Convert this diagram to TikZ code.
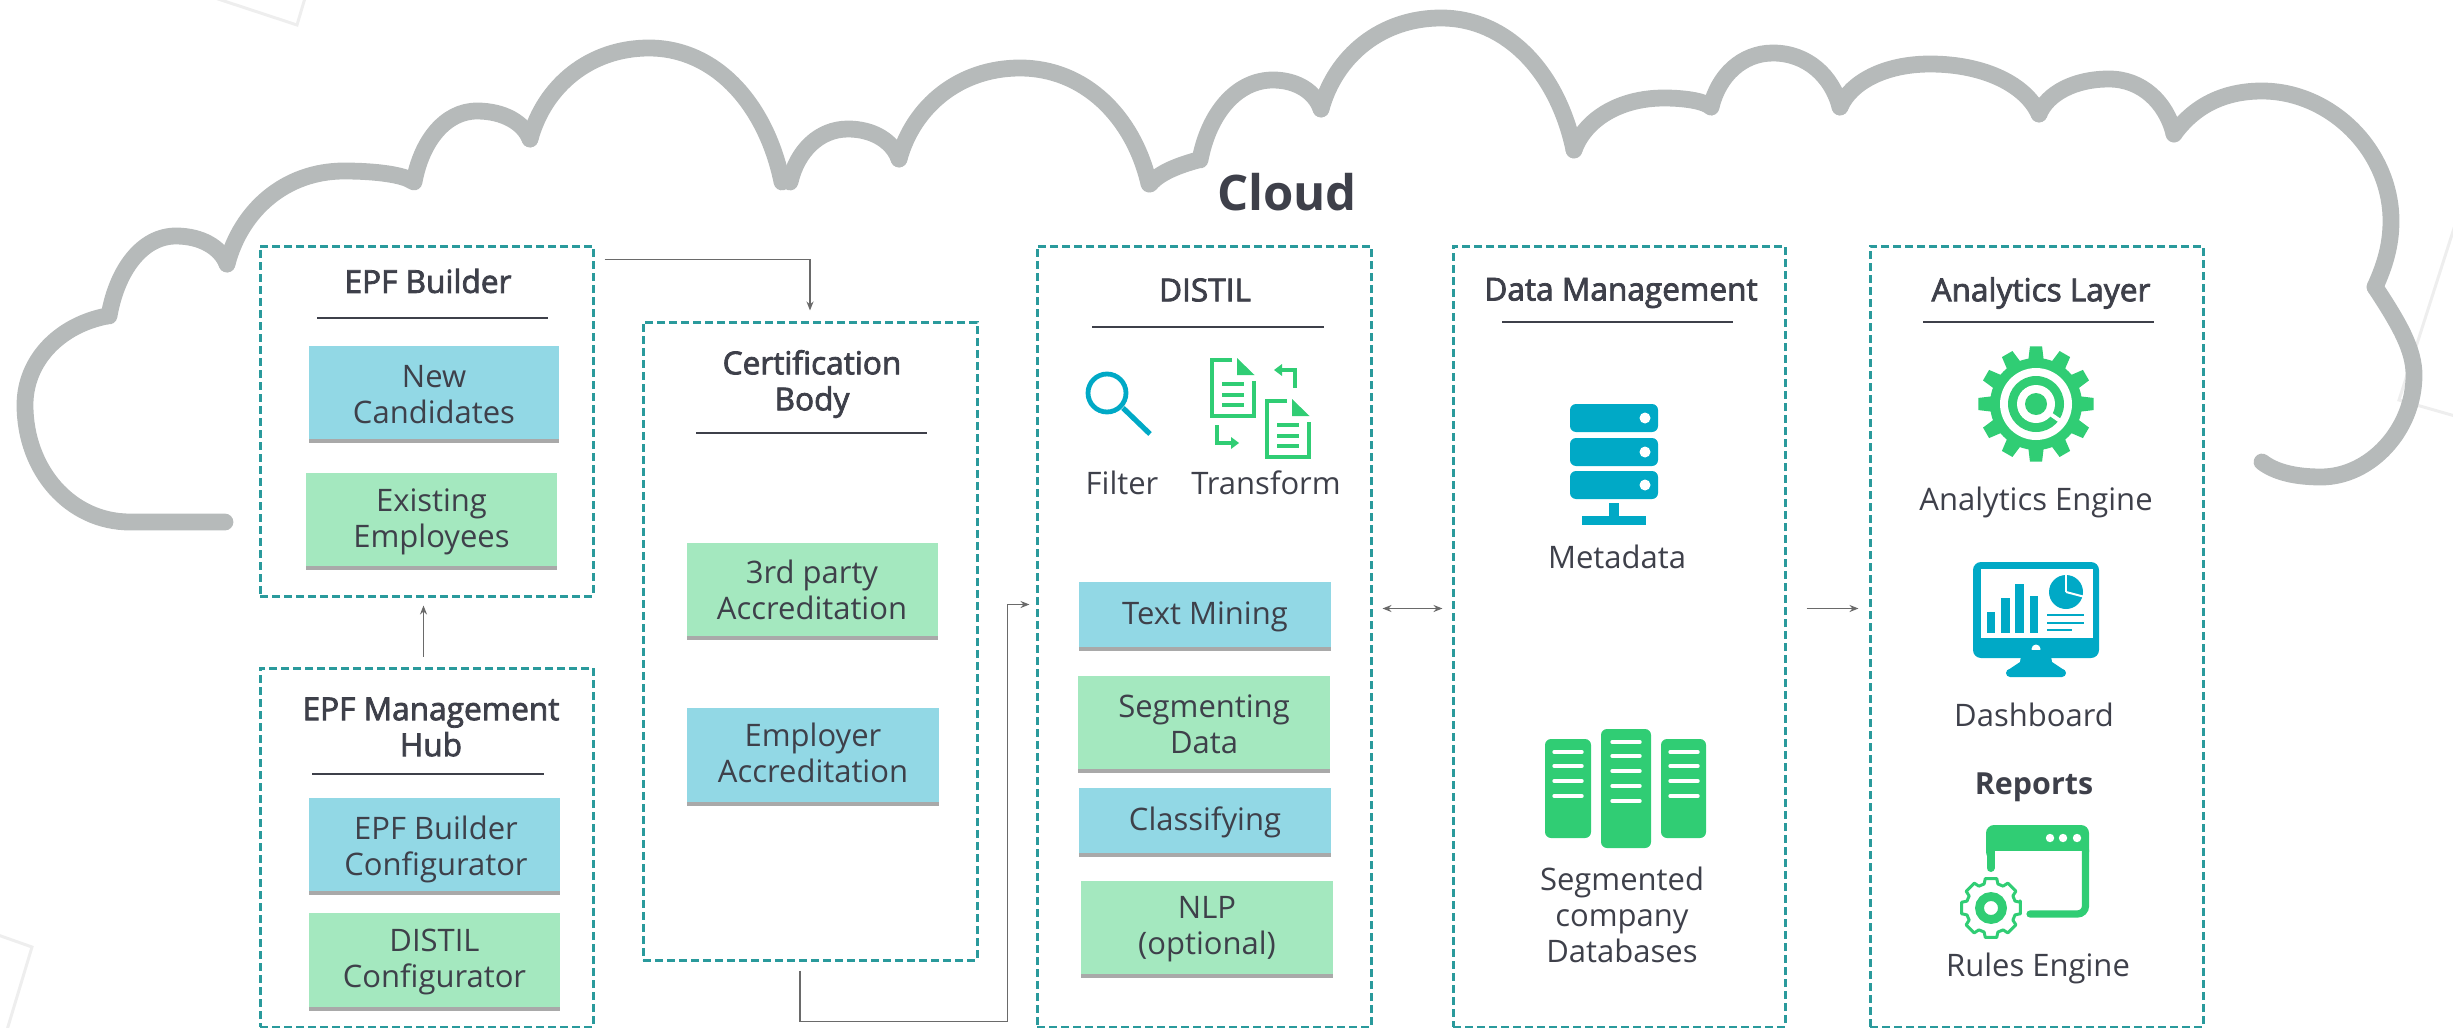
\documentclass[tikz,border=0pt]{standalone}
\usepackage{fontspec}
\setmainfont{Open Sans}
\newfontfamily\semi[FakeBold=2.5]{Open Sans}
\usetikzlibrary{arrows.meta}
\definecolor{ink}{HTML}{3E404A}
\definecolor{teal1}{HTML}{2A9A9C}
\definecolor{bluebox}{HTML}{92D8E5}
\definecolor{greenbox}{HTML}{A4E8BF}
\definecolor{shade1}{HTML}{A9A9A9}
\definecolor{iconblue}{HTML}{00A9C6}
\definecolor{icongreen}{HTML}{30CD74}
\definecolor{cloudgray}{HTML}{B6BABA}
\definecolor{faint}{HTML}{EEEEEE}
\definecolor{conn}{HTML}{6A6A6A}
\tikzset{
  cloudline/.style={draw=cloudgray,line width=8.4pt,line cap=round,line join=round},
  dashbox/.style={draw=teal1,line width=1.5pt,dash pattern=on 4pt off 2pt,inner sep=0pt,fill=none},
  titletext/.style={text=ink,font=\fontsize{15.8}{18}\semi,align=center,inner sep=0pt},
  bodytext/.style={text=ink,font=\fontsize{15.5}{18}\selectfont,align=center,inner sep=0pt},
  rulebar/.style={draw=ink,line width=1.1pt},
  conarrow/.style={draw=conn,line width=0.8pt,-{Stealth[length=4.5pt,width=3.5pt]}},
  conboth/.style={draw=conn,line width=0.8pt,{Stealth[length=4.5pt,width=3.5pt]}-{Stealth[length=4.5pt,width=3.5pt]}},
  cardbase/.style={inner sep=0pt,text=ink,font=\fontsize{15.5}{18}\selectfont,align=center,
    path picture={\fill[shade1] ([yshift=2pt]path picture bounding box.south west) rectangle (path picture bounding box.south east);}},
  bluecard/.style={cardbase,fill=bluebox},
  greencard/.style={cardbase,fill=greenbox},
}
\newcommand{\pbox}[7]{\node[#2,minimum width={(#5-#3)*0.5pt},minimum height={(#6-#4)*0.5pt}] (#1) at ({(#3+#5)/2},{(#4+#6)/2}) {#7};}
% one lobe of the cloud: start cusp, top, end cusp
\newcommand{\lobe}[6]{\draw[cloudline] (#1,#2)
  .. controls ({#1+0.12*(#3-#1)},{#2-0.58*(#2-#4)}) and ({#3-0.5*(#3-#1)},#4) .. (#3,#4)
  .. controls ({#3+0.5*(#5-#3)},#4) and ({#5-0.12*(#5-#3)},{#6-0.58*(#6-#4)}) .. (#5,#6);}
\begin{document}
\begin{tikzpicture}[x=0.5pt,y=-0.5pt]
\useasboundingbox (0,0) rectangle (2453,1028);
\clip (0,0) rectangle (2453,1028);
% faint background shapes
\draw[faint,line width=1.5pt] (215,-2) -- (297,25) -- (305,-2);
\draw[faint,line width=1.5pt] (-2,935) -- (32,947) -- (7,1030);
\draw[faint,line width=1.5pt] (2455,225) -- (2399,400) -- (2455,416);
% cloud
\draw[cloudline] (225,522) -- (130,522) .. controls (70,522) and (25,470) .. (25,405) .. controls (25,360) and (60,325) .. (107,316);
\lobe{109}{316}{176}{236}{227}{264}
\lobe{227}{264}{344}{171}{412}{181}
\lobe{414}{182}{477}{111}{530}{139}
\lobe{530}{139}{649}{48}{782}{182}
\lobe{790}{182}{848}{129}{899}{159}
\lobe{899}{159}{1020}{68}{1149}{184}
\draw[cloudline] (1150,184) .. controls (1160,172) and (1180,165) .. (1198,160);
\lobe{1200}{160}{1273}{80}{1321}{109}
\lobe{1321}{109}{1441}{18}{1574}{150}
\lobe{1574}{150}{1664}{98}{1711}{107}
\lobe{1711}{107}{1773}{53}{1840}{107}
\lobe{1840}{107}{1930}{64}{2039}{114}
\lobe{2039}{114}{2109}{79}{2174}{134}
\draw[cloudline] (2174,134) .. controls (2195,105) and (2225,91) .. (2262,91) .. controls (2330,91) and (2391,150) .. (2391,221) .. controls (2391,245) and (2385,265) .. (2375,287);
\draw[cloudline] (2375,287) .. controls (2400,325) and (2414,350) .. (2414,375) .. controls (2414,430) and (2370,477) .. (2321,477) .. controls (2295,477) and (2275,472) .. (2262,462);
\node[text=ink,font=\fontsize{24.5}{28}\selectfont\bfseries,inner sep=0pt] (cloudtitle) at (1287,192) {Cloud};
% dashed containers
\pbox{builder}{dashbox}{260}{246}{593}{596}{}
\pbox{cert}{dashbox}{643}{322}{977}{960}{}
\pbox{hub}{dashbox}{260}{668}{593}{1027}{}
\pbox{distil}{dashbox}{1037}{246}{1371}{1027}{}
\pbox{data}{dashbox}{1453}{246}{1785}{1027}{}
\pbox{analytics}{dashbox}{1870}{246}{2203}{1027}{}
% titles and rules
\node[titletext] (tbuilder) at (428,281) {EPF Builder};
\draw[rulebar] (317,318) -- (548,318);
\node[titletext] (tcert) at (812,384) {Certification\\Body};
\draw[rulebar] (696,433) -- (927,433);
\node[titletext] (thub) at (431,727) {EPF Management\\Hub};
\draw[rulebar] (312,774) -- (544,774);
\node[titletext] (tdistil) at (1205,290) {DISTIL};
\draw[rulebar] (1092,327) -- (1324,327);
\node[titletext] (tdata) at (1621,293) {Data Management};
\draw[rulebar] (1502,322) -- (1733,322);
\node[titletext] (tanalytics) at (2041,293) {Analytics Layer};
\draw[rulebar] (1923,322) -- (2154,322);
% cards
\pbox{newc}{bluecard}{309}{346}{559}{443}{New\\Candidates}
\pbox{exist}{greencard}{306}{473}{557}{570}{Existing\\Employees}
\pbox{third}{greencard}{687}{543}{938}{640}{}
\node[bodytext] (thirdtext) at (812,590) {3rd party\\Accreditation};
\pbox{employer}{bluecard}{687}{708}{939}{806}{}
\node[bodytext] (employertext) at (813,753) {Employer\\Accreditation};
\pbox{ebc}{bluecard}{309}{798}{560}{895}{}
\node[bodytext] (ebctext) at (436,849) {EPF Builder\\Configurator};
\pbox{dc}{greencard}{309}{913}{560}{1011}{DISTIL\\Configurator}
\pbox{mining}{bluecard}{1079}{582}{1331}{651}{Text Mining}
\pbox{seg}{greencard}{1078}{676}{1330}{773}{Segmenting\\Data}
\pbox{classy}{bluecard}{1079}{788}{1331}{857}{Classifying}
\pbox{nlp}{greencard}{1081}{881}{1333}{978}{NLP\\(optional)}
% connectors
\draw[conarrow] ([shift={(5pt,-7.5pt)}]builder.north east) -| ([yshift=5pt]cert.north);
\draw[conarrow] ([shift={(-1.5pt,5pt)}]hub.north) -- ([shift={(-1.5pt,-4pt)}]builder.south);
\draw[conarrow] ([shift={(-5pt,-4.5pt)}]cert.south) |- ([shift={(-14pt,-192.5pt)}]distil.west) -- ([shift={(-14pt,16pt)}]distil.west) -- ([shift={(-3pt,16pt)}]distil.west);
\draw[conboth] ([shift={(5pt,14pt)}]distil.east) -- ([shift={(-4.5pt,14pt)}]data.west);
\draw[conarrow] ([shift={(10pt,14pt)}]data.east) -- ([shift={(-5pt,14pt)}]analytics.west);
% filter icon
\draw[iconblue,line width=2.4pt] (1107,393) circle (19);
\draw[iconblue,line width=2.6pt] (1123,408) -- (1150,434);
\node[bodytext] (filter) at (1122,483) {Filter};
% transform icon
\foreach \dx/\dy in {0/0,55/41}{
\begin{scope}[shift={(\dx,\dy)}]
\draw[icongreen,line width=1.8pt] (1232,360) -- (1212,360) -- (1212,416) -- (1254,416) -- (1254,381);
\fill[icongreen] (1237,358) -- (1237,375) -- (1254.5,375) -- cycle;
\draw[icongreen,line width=1.8pt] (1222,384) -- (1244,384) (1222,395) -- (1244,395) (1222,405) -- (1244,405);
\end{scope}}
\draw[icongreen,line width=1.6pt] (1295,388) -- (1295,370) -- (1280,370);
\fill[icongreen] (1274,370) -- (1282,364) -- (1282,376) -- cycle;
\draw[icongreen,line width=1.6pt] (1217,425) -- (1217,443) -- (1232,443);
\fill[icongreen] (1239,443) -- (1231,437) -- (1231,449) -- cycle;
\node[bodytext] (transform) at (1266,483) {Transform};
% metadata icon
\foreach \y in {404,438,471}{
\fill[iconblue,rounded corners=3pt] (1570,\y) rectangle (1658,\y+28);
\fill[white] (1645,\y+14) circle (5.5);}
\fill[iconblue] (1609,503) rectangle (1619,518);
\fill[iconblue] (1582,516) rectangle (1646,525);
\node[bodytext] (metadata) at (1617,557) {Metadata};
% databases icon
\fill[icongreen,rounded corners=3pt] (1545,739) rectangle (1591,838);
\fill[icongreen,rounded corners=3pt] (1601,729) rectangle (1651,848);
\fill[icongreen,rounded corners=3pt] (1661,739) rectangle (1706,838);
\foreach \y in {752,766,781,796}{
\draw[white,line width=1.7pt,line cap=round] (1554,\y) -- (1582,\y);
\draw[white,line width=1.7pt,line cap=round] (1670,\y) -- (1698,\y);}
\foreach \y in {742,756,771,786,801}{
\draw[white,line width=1.7pt,line cap=round] (1612,\y) -- (1640,\y);}
\node[bodytext] (segdb) at (1622,915) {Segmented\\company\\Databases};
% analytics gear
\begin{scope}[shift={(2036,404)}]
\fill[icongreen] (0,0) circle (46);
\foreach \a in {0,30,...,330}{
\fill[icongreen] (\a-11:42) -- (\a-6:58) -- (\a+6:58) -- (\a+11:42) -- cycle;}
\fill[white] (0,0) circle (36);
\fill[icongreen] (0,0) circle (28);
\fill[white] (0,0) circle (19);
\fill[icongreen] (0,0) circle (11);
\draw[white,line width=2pt] (35:13) -- (35:31);
\end{scope}
\node[bodytext] (engine) at (2036,502) {Analytics Engine};
% dashboard icon
\begin{scope}[shift={(-4,0)}]
\fill[iconblue,rounded corners=4pt] (1977,562) rectangle (2103,658);
\fill[white] (1985,569) rectangle (2097,638);
\fill[white] (2040,649) circle (4.5);
\fill[iconblue] (2026,650) -- (2054,650) -- (2056,662) -- (2068,670) -- (2012,670) -- (2024,662) -- cycle;
\fill[iconblue,rounded corners=2pt] (2010,669) rectangle (2070,677);
\fill[iconblue] (1991,612) rectangle (1999,633);
\fill[iconblue] (2005,598) rectangle (2014,633);
\fill[iconblue] (2019,584) rectangle (2028,633);
\fill[iconblue] (2034,596) rectangle (2042,633);
\fill[iconblue] (2070,592) circle (17);
\draw[white,line width=1pt] (2070,592) -- (2070,573);
\draw[white,line width=1pt] (2070,592) -- (2089,597);
\draw[iconblue,line width=1.3pt] (2051,615) -- (2088,615) (2051,623) -- (2088,623) (2051,630) -- (2076,630);
\end{scope}
\node[bodytext] (dashb) at (2034,715) {Dashboard};
\node[text=ink,font=\fontsize{15.2}{18}\selectfont\bfseries,inner sep=0pt] (reports) at (2034,787) {Reports};
% rules icon
\fill[icongreen,rounded corners=4pt] (1986,825) rectangle (2089,860);
\fill[white] (1995,851) rectangle (2082,866);
\fill[white] (2050,838) circle (4.2) (2063,838) circle (4.2) (2077,838) circle (4.2);
\draw[icongreen,line width=4pt,line cap=round] (1990.5,850) -- (1990.5,868);
\draw[icongreen,line width=3.6pt,line cap=round,rounded corners=4pt] (2085.5,850) -- (2085.5,914) -- (2030,914);
\begin{scope}[shift={(1991,908)}]
\draw[icongreen,line width=1.5pt,line join=round,fill=white]
  (-14:30) \foreach \a in {0,45,...,315}{ -- (\a-11:30) -- (\a+11:30) -- (\a+16:25) -- (\a+29:25) -- (\a+34:30)} -- cycle;
\draw[icongreen,line width=4.4pt] (0,0) circle (11.5);
\end{scope}
\node[bodytext] (rules) at (2038,968) {Rules Engine};
\end{tikzpicture}
\end{document}
